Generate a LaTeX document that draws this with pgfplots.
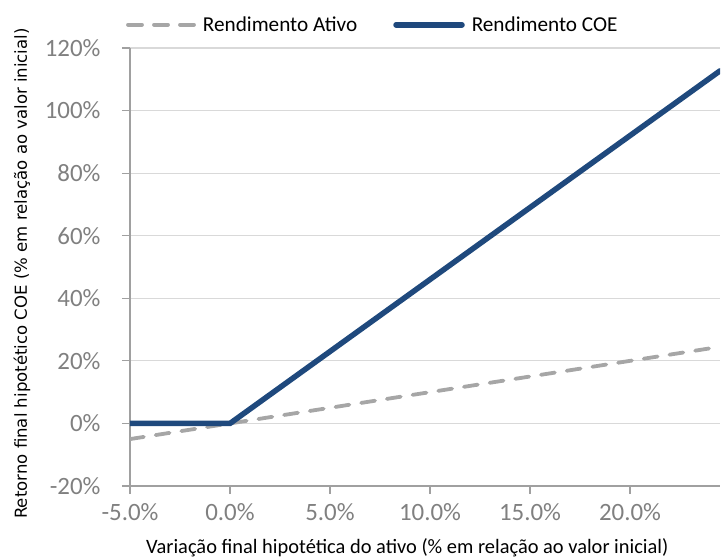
\documentclass[border=0pt]{standalone}
\usepackage{fontspec}
\setmainfont{Carlito}
\newfontfamily\ylabfont{DejaVu Sans}
\usepackage{pgfplots}
\pgfplotsset{compat=1.18}
\definecolor{coe}{RGB}{31,73,125}
\definecolor{ativo}{RGB}{166,166,166}
\definecolor{axgray}{RGB}{160,160,160}
\definecolor{gridgray}{RGB}{217,217,217}
\definecolor{ticktxt}{RGB}{128,128,128}
\begin{document}
\begin{tikzpicture}
\path[use as bounding box] (-130bp,-71bp) rectangle (592bp,486bp);
\begin{axis}[
  scale only axis, width=590bp, height=438bp,
  xmin=-5, xmax=24.5, ymin=-20, ymax=120,
  axis x line*=bottom, axis y line*=left,
  axis line style={axgray, line width=1.2bp},
  xtick={-5,0,5,10,15,20},
  xticklabels={-5.0\%,0.0\%,5.0\%,10.0\%,15.0\%,20.0\%},
  ytick={-20,0,20,40,60,80,100,120},
  yticklabels={-20\%,0\%,20\%,40\%,60\%,80\%,100\%,120\%},
  tick align=outside, major tick length=8bp,
  tick style={axgray, line width=1.2bp},
  ymajorgrids, grid style={gridgray, line width=1.2bp},
  tick label style={font=\fontsize{25}{27}\selectfont, text=ticktxt},
  xticklabel style={yshift=-6bp},
  yticklabel style={xshift=-18bp},
  xlabel={Variação final hipotética do ativo (\% em relação ao valor inicial)},
  xlabel style={at={(axis description cs:0.470,-0.153)}, anchor=base, font=\fontsize{20.5}{22}\selectfont},
  ylabel={\ylabfont Retorno final hipotético COE (\% em relação ao valor inicial)},
  ylabel style={at={(axis description cs:-0.1746,0.485)}, anchor=base, font=\fontsize{16.6}{18}\selectfont},
  legend columns=2,
  legend style={at={(axis description cs:-0.012,1.053)}, anchor=west, draw=none, fill=none,
    font=\fontsize{21.3}{23}\selectfont,
    /tikz/every odd column/.append style={column sep=5bp},
    /tikz/every even column/.append style={column sep=34bp}},
  legend image code/.code={\draw[#1] (0bp,0bp) -- (66bp,0bp);},
]
\addplot[ativo, line width=3.8bp, line cap=round, dash pattern=on 14bp off 12bp] coordinates {(-5,-5) (24.5,24.5)};
\addlegendentry{Rendimento Ativo}
\addplot[coe, line width=5.5bp, line cap=round] coordinates {(-5,0) (0,0) (24.5,112.7)};
\addlegendentry{Rendimento COE}
\end{axis}
\end{tikzpicture}
\end{document}
